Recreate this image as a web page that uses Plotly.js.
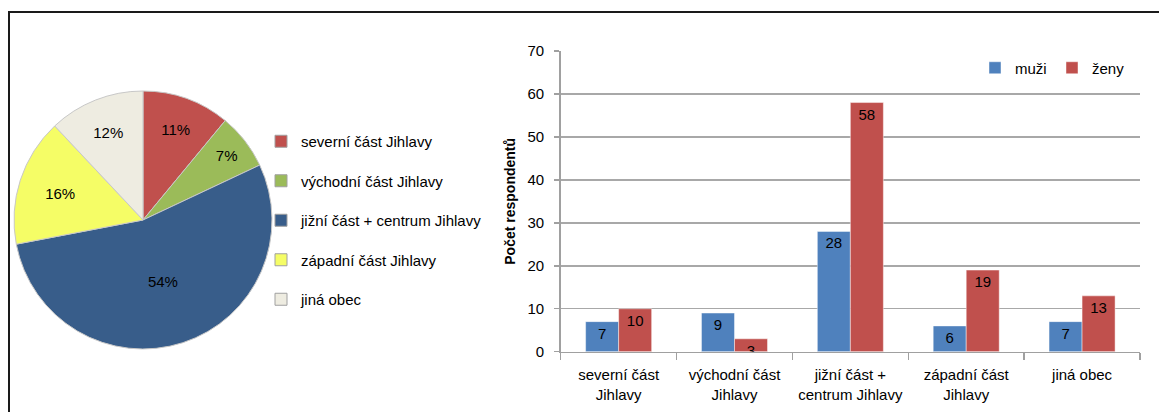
<!DOCTYPE html>
<html>
<head>
<meta charset="utf-8">
<script src="https://cdn.plot.ly/plotly-3.0.1.min.js"></script>
<style>html,body{margin:0;padding:0;background:#fff;}#chart{width:1159px;height:412px;}</style>
</head>
<body>
<div id="chart"></div>
<script>
// ---- data ----
var pieCategories = ['severní část Jihlavy', 'východní část Jihlavy', 'jižní část + centrum Jihlavy', 'západní část Jihlavy', 'jiná obec'];
var piePercents = [11, 7, 54, 16, 12];
var pieColors = ['#C0504D', '#9BBB59', '#385D8A', '#F5FD66', '#EEECE1'];

var barCategories = ['severní část<br>Jihlavy', 'východní část<br>Jihlavy', 'jižní část +<br>centrum Jihlavy', 'západní část<br>Jihlavy', 'jiná obec'];
var muzi = [7, 9, 28, 6, 7];
var zeny = [10, 3, 58, 19, 13];
var seriesNames = ['muži', 'ženy'];
var seriesColors = ['#4F81BD', '#C0504D'];
var yTicks = [0, 10, 20, 30, 40, 50, 60, 70];

var W = 1159, H = 412;
var FONT = 'Liberation Sans, Arial, sans-serif';
var FS = 15;

var traces = [];
traces.push({
  type: 'pie',
  labels: pieCategories,
  values: piePercents,
  sort: false,
  direction: 'clockwise',
  rotation: 0,
  marker: {colors: pieColors, line: {color: '#C8C8C8', width: 1}},
  texttemplate: '%{value}%',
  textposition: 'inside',
  insidetextorientation: 'horizontal',
  textfont: {family: FONT, size: FS, color: '#000'},
  domain: {x: [14 / W, 272 / W], y: [1 - 349 / H, 1 - 91 / H]},
  showlegend: false,
  hoverinfo: 'none'
});
// legend entries for the pie (spaced like the reference)
for (var i = 0; i < pieCategories.length; i++) {
  traces.push({
    type: 'bar', x: [null], y: [null], name: pieCategories[i],
    xaxis: 'x2', yaxis: 'y2', legend: 'legend', legendgroup: 'g' + i,
    marker: {color: pieColors[i], line: {color: '#A0A0A0', width: 1}},
    hoverinfo: 'none'
  });
}
var barSeries = [muzi, zeny];
for (var s = 0; s < 2; s++) {
  traces.push({
    type: 'bar', x: barCategories, y: barSeries[s], name: seriesNames[s],
    xaxis: 'x', yaxis: 'y', legend: 'legend2',
    marker: {color: seriesColors[s], line: {color: 'rgba(255,255,255,0.45)', width: 1}},
    text: barSeries[s].map(String),
    textposition: 'inside', insidetextanchor: 'end', constraintext: 'none', textangle: 0,
    insidetextfont: {family: FONT, size: FS, color: '#000'},
    hoverinfo: 'none'
  });
}

var layout = {
  width: W, height: H,
  margin: {l: 0, r: 0, t: 0, b: 0},
  paper_bgcolor: '#fff', plot_bgcolor: 'rgba(0,0,0,0)',
  font: {family: FONT, size: FS, color: '#000'},
  barmode: 'group', bargap: 0.43, bargroupgap: 0,
  showlegend: true,
  xaxis: {
    domain: [560.7 / W, 1140 / W], anchor: 'y', type: 'category',
    showline: true, linecolor: '#A0A0A0', linewidth: 1.5,
    ticks: 'outside', tickson: 'boundaries', ticklen: 7, tickcolor: '#A0A0A0', tickwidth: 1.5,
    ticklabelstandoff: 9,
    showgrid: false, automargin: false,
    tickfont: {family: FONT, size: FS, color: '#000'}
  },
  yaxis: {
    domain: [1 - 351.7 / H, 1 - 51 / H], anchor: 'x', range: [0, 70],
    tickvals: yTicks, ticktext: yTicks.map(String),
    showline: true, linecolor: '#A0A0A0', linewidth: 1.5,
    ticks: 'outside', ticklen: 5, tickcolor: '#A0A0A0', tickwidth: 1.5,
    ticklabelstandoff: 7,
    showgrid: true, gridcolor: '#A8A8A8', gridwidth: 1.5, zeroline: false,
    automargin: false,
    tickfont: {family: FONT, size: FS, color: '#000'},
    title: {text: 'Počet respondentů', font: {family: FONT, size: 14, color: '#000', weight: 'bold'}, standoff: 8}
  },
  xaxis2: {domain: [0, 0.01], anchor: 'y2', visible: false, showgrid: false, zeroline: false},
  yaxis2: {domain: [0, 0.01], anchor: 'x2', visible: false, showgrid: false, zeroline: false},
  legend: {
    x: 261 / W, xanchor: 'left', y: 1 - 125 / H, yanchor: 'top',
    bgcolor: 'rgba(0,0,0,0)', traceorder: 'grouped', tracegroupgap: 17,
    font: {family: FONT, size: FS, color: '#000'}
  },
  legend2: {
    orientation: 'h', x: 975 / W, xanchor: 'left', y: 1 - 68 / H, yanchor: 'middle',
    bgcolor: 'rgba(0,0,0,0)', entrywidth: 32, entrywidthmode: 'pixels',
    font: {family: FONT, size: FS, color: '#000'}
  },
  shapes: [{
    type: 'rect', xref: 'paper', yref: 'paper',
    x0: 9 / W, x1: 1.02, y0: -0.02, y1: 1 - 12 / H,
    line: {color: '#1A1A1A', width: 2}, fillcolor: 'rgba(0,0,0,0)', layer: 'below'
  }]
};

Plotly.newPlot('chart', traces, layout, {displayModeBar: false, staticPlot: true});
</script>
</body>
</html>
